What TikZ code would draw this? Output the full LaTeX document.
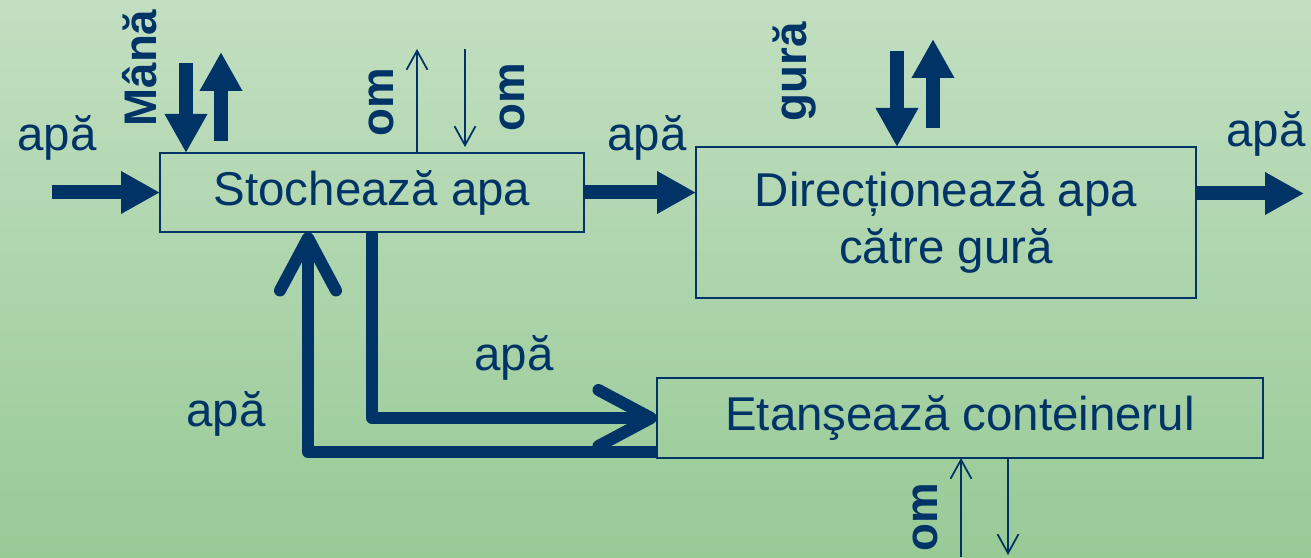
\documentclass[tikz,border=0pt]{standalone}
\usepackage{fontspec}
\setmainfont{Liberation Sans}
\usetikzlibrary{arrows.meta}
\definecolor{flowblue}{RGB}{0,51,102}
\definecolor{bgtop}{RGB}{194,223,193}
\definecolor{bgbottom}{RGB}{152,202,150}

\begin{document}
\begin{tikzpicture}[auto]

%
% Styles
%
\tikzstyle{block}    = [draw=flowblue,line width=0.04cm,text=flowblue,font=\fontsize{27}{32.5}\selectfont,align=center,inner sep=0pt,outer sep=0pt]
\tikzstyle{flowtext} = [text=flowblue,font=\fontsize{27}{32.5}\selectfont,inner sep=0pt]
\tikzstyle{sidetext} = [text=flowblue,font=\fontsize{26}{31}\selectfont\bfseries,rotate=90,inner sep=0pt]
\tikzstyle{bigflow}  = [draw=flowblue,line width=0.28cm,-{Triangle[length=0.78cm,width=0.8cm]}]
\tikzstyle{loopflow} = [draw=flowblue,line width=0.24cm,line join=round,-{Straight Barb[length=1.05cm,width=1.12cm,round]}]
\tikzstyle{thinflow} = [draw=flowblue,line width=0.035cm,-{Straight Barb[length=0.38cm,width=0.42cm]}]

\useasboundingbox (0,0) rectangle (26.22,11.14);
\shade[top color=bgtop,bottom color=bgbottom] (0,0) rectangle (26.22,11.14);

\node[block,minimum width=8.48cm,minimum height=1.58cm] (store)  at ( 7.44,7.29) {Stochează apa};
\node[block,minimum width=10cm,minimum height=3.02cm]   (direct) at (18.92,6.69) {Direcționează apa\\către gură};
\node[block,minimum width=12.12cm,minimum height=1.6cm] (seal)   at (19.20,2.78) {Etanşează conteinerul};

\node[flowtext] (apain)   at ( 1.14,8.38) {apă};
\node[flowtext] (apamid)  at (12.94,8.38) {apă};
\node[flowtext] (apaout)  at (25.32,8.46) {apă};
\node[flowtext] (apadown) at (10.28,3.98) {apă};
\node[flowtext] (apaup)   at ( 4.52,2.86) {apă};

\node[sidetext] (hand)   at ( 2.80,9.78) {Mână};
\node[sidetext] (omin)   at ( 7.62,9.10) {om};
\node[sidetext] (omout)  at (10.24,9.20) {om};
\node[sidetext] (mouth)  at (15.90,9.70) {gură};
\node[sidetext] (omseal) at (18.50,0.80) {om};

\coordinate (in)        at ( 1.04, 7.29);
\coordinate (handdown)  at ( 3.72, 9.88);
\coordinate (handup0)   at ( 4.42, 8.32);
\coordinate (handup1)   at ( 4.42,10.10);
\coordinate (omup)      at ( 8.34,10.16);
\coordinate (omdown0)   at ( 9.30,10.16);
\coordinate (omdown1)   at ( 9.30, 8.20);
\coordinate (mouthdown) at (17.94,10.12);
\coordinate (mouthup0)  at (18.66, 8.58);
\coordinate (mouthup1)  at (18.66,10.36);
\coordinate (out)       at (26.08, 7.27);
\coordinate (sealup)    at (19.22, 0.00);
\coordinate (sealdown)  at (20.16, 0.04);

\draw[bigflow] (in) -- (store.west);
\draw[bigflow] (handdown) -- (handdown |- store.north);
\draw[bigflow] (handup0) -- (handup1);
\draw[thinflow] (omup |- store.north) -- (omup);
\draw[thinflow] (omdown0) -- (omdown1);

\draw[bigflow] (store.east) -- (store.east -| direct.west);
\draw[bigflow] (mouthdown) -- (mouthdown |- direct.north);
\draw[bigflow] (mouthup0) -- (mouthup1);
\draw[bigflow] (out -| direct.east) -- (out);

\draw[loopflow] (store.south) |- (seal.west);
\draw[loopflow] ([yshift=0.12cm]seal.south west) -| ([xshift=-1.28cm]store.south);

\draw[thinflow] (sealup) -- (sealup |- seal.south);
\draw[thinflow] (sealdown |- seal.south) -- (sealdown);

\end{tikzpicture}
\end{document}
